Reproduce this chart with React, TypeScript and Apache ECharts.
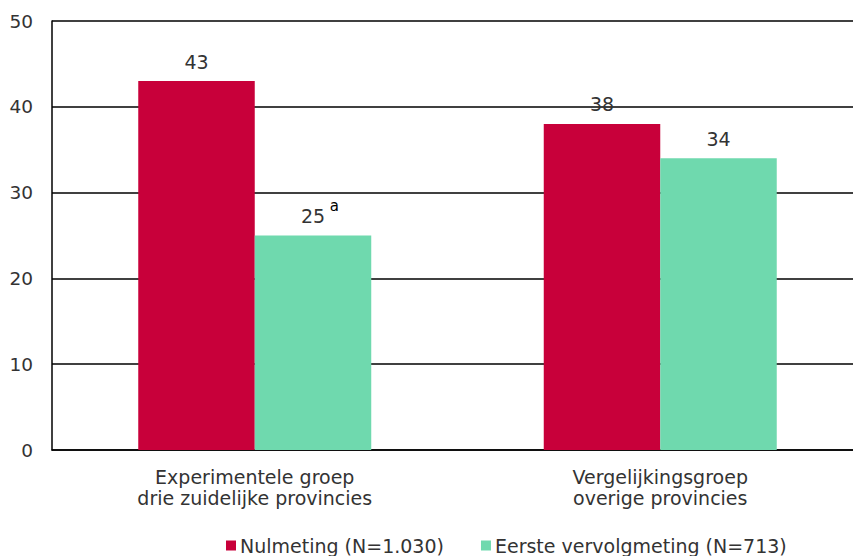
import React, { useEffect, useRef } from "react";
import * as echarts from "echarts";

const categories = ["Experimentele groep\ndrie zuidelijke provincies", "Vergelijkingsgroep\noverige provincies"];
const seriesNames = ["Nulmeting (N=1.030)", "Eerste vervolgmeting (N=713)"];
const nulmeting = [43, 38];
const vervolgmeting = [25, 34];
const vervolgNotes = ["a", ""];
const yTicks = { min: 0, max: 50, interval: 10 };

const FONT = "DejaVu Sans, Verdana, sans-serif";
const TEXT = "#333333";

export default function App() {
  const ref = useRef<HTMLDivElement>(null);
  useEffect(() => {
    if (!ref.current) return;
    const chart = echarts.init(ref.current, undefined, { renderer: "svg" });
    const mkLabel = (notes: string[] | null) => ({
      show: true,
      position: "top",
      distance: 10,
      fontFamily: FONT,
      fontSize: 19,
      color: TEXT,
      formatter: (p: any) => {
        const n = notes ? notes[p.dataIndex] : "";
        return n ? `{p| ${n}}{w|${p.value}}{s| ${n}}` : `{v|${p.value}}`;
      },
      rich: {
        v: { fontFamily: FONT, fontSize: 19, color: TEXT },
        w: { fontFamily: FONT, fontSize: 19, color: TEXT, padding: [9, 0, 0, 0] },
        s: { fontFamily: FONT, fontSize: 15, color: "#000", padding: [0, 0, 11, 0] },
        p: { fontFamily: FONT, fontSize: 15, color: "rgba(0,0,0,0)", padding: [0, 0, 11, 0] },
      },
    });
    chart.setOption({
      animation: false,
      textStyle: { fontFamily: FONT },
      grid: { left: 52, top: 21, bottom: 106, right: -10, containLabel: false, outerBoundsMode: "none" },
      legend: {
        left: 226,
        top: 536,
        padding: 0,
        itemWidth: 10,
        itemHeight: 10,
        itemGap: 37,
        icon: "rect",
        textStyle: { fontFamily: FONT, fontSize: 19, color: TEXT, padding: [0, 0, 0, -1] },
        data: seriesNames,
      },
      xAxis: {
        type: "category",
        data: categories,
        axisLine: { show: true, lineStyle: { color: "#000", width: 1.5 } },
        axisTick: { show: false },
        axisLabel: { fontFamily: FONT, fontSize: 19, color: TEXT, lineHeight: 21, margin: 16 },
      },
      yAxis: {
        type: "value",
        min: yTicks.min,
        max: yTicks.max,
        interval: yTicks.interval,
        axisLine: { show: true, lineStyle: { color: "#000", width: 1.5 } },
        axisTick: { show: false },
        axisLabel: { fontFamily: FONT, fontSize: 18.5, color: TEXT, margin: 19 },
        splitLine: { show: true, lineStyle: { color: "#000", width: 1.5 } },
      },
      series: [
        {
          name: seriesNames[0],
          type: "bar",
          data: nulmeting,
          barWidth: 116.5,
          barGap: "0%",
          itemStyle: { color: "#c8003a" },
          label: mkLabel(null),
        },
        {
          name: seriesNames[1],
          type: "bar",
          data: vervolgmeting,
          barWidth: 116.5,
          barGap: "0%",
          itemStyle: { color: "#6fd9ae" },
          label: mkLabel(vervolgNotes),
        },
      ],
    });
    return () => chart.dispose();
  }, []);
  return <div ref={ref} style={{ position: "absolute", left: 0, top: 0, width: 853, height: 556 }} />;
}
